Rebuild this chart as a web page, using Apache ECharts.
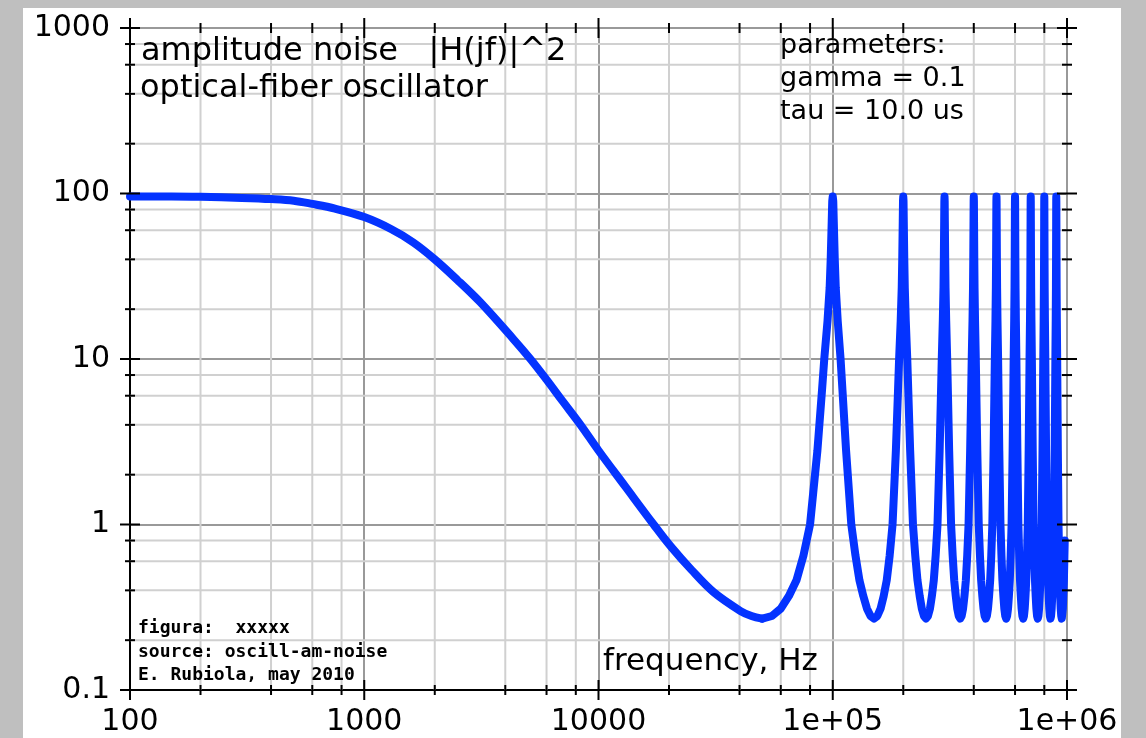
<!DOCTYPE html>
<html>
<head>
<meta charset="utf-8">
<script src="https://cdn.jsdelivr.net/npm/echarts@6/dist/echarts.min.js"></script>
<style>
html, body { margin: 0; padding: 0; background: #bfbfbf; }
#paper { position: absolute; left: 23px; top: 8px; width: 1098px; height: 730px; background: #fff; }
#chart { position: absolute; left: 0; top: 0; width: 1146px; height: 738px; }
</style>
</head>
<body>
<div id="paper"></div>
<div id="chart"></div>
<script>
// amplitude noise |H(jf)|^2
// low-frequency part (Hz), up to the first valley
const lowFreq  = [100, 150, 200, 300, 400, 500, 600, 750, 1000, 1300, 1620, 2000, 2500, 3130, 4330, 5120, 6000, 7000, 8380, 10000, 13000, 17200, 20300, 25000, 31000, 40400, 45000, 50000];
const lowValue = [96, 96, 95.5, 94, 92.5, 90.5, 86.5, 81, 72, 61, 50.6, 40, 30, 22, 13.2, 10, 7.5, 5.6, 4.0, 2.8, 1.7, 1.0, 0.74, 0.53, 0.39, 0.30, 0.28, 0.27];

// the comb: one peak every 1/tau = 100 kHz, same shape each time
const peakCenterKHz = [100, 200, 300, 400, 500, 600, 700, 800, 900];
const peakOffsetKHz = [-50, -45, -40, -35, -30, -25, -20, -14, -10, -8, -5, -3, -2, -1, -0.5, 0, 0.5, 1, 2, 3, 5, 8, 10, 14, 20, 25, 30, 35, 40, 45];
const peakShape     = [0.27, 0.28, 0.31, 0.37, 0.46, 0.65, 1.0, 2.8, 6.5, 10, 17, 27, 40, 68, 90, 96, 90, 68, 40, 27, 17, 10, 6.5, 2.8, 1.0, 0.65, 0.46, 0.37, 0.31, 0.28];
const tailKHz   = [950, 960, 970, 978];
const tailValue = [0.27, 0.31, 0.46, 0.8];

// axes
const xMajor  = [100, 1000, 10000, 1e5, 1e6];
const xLabels = ['100', '1000', '10000', '1e+05', '1e+06'];
const yMajor  = [0.1, 1, 10, 100, 1000];
const yLabels = ['0.1', '1', '10', '100', '1000'];
const xMinor  = [200, 400, 600, 800, 2000, 4000, 6000, 8000, 20000, 40000, 60000, 80000, 200000, 400000, 600000, 800000];
const yMinor  = [0.2, 0.4, 0.6, 0.8, 2, 4, 6, 8, 20, 40, 60, 80, 200, 400, 600, 800];

const X_MIN = 100, X_MAX = 1e6, Y_MIN = 0.1, Y_MAX = 1000;
const FONT = '"DejaVu Sans", "Liberation Sans", sans-serif';
const BLUE = '#0433ff';

const lowPart = lowFreq.map((f, i) => [f, lowValue[i]]);
let comb = [];
peakCenterKHz.forEach(c => {
  peakOffsetKHz.forEach((o, i) => comb.push([(c + o) * 1000, peakShape[i]]));
});
tailKHz.forEach((f, i) => comb.push([f * 1000, tailValue[i]]));

function pickLabel(v, majors, labels) {
  const i = majors.findIndex(m => Math.abs(Math.log10(m) - Math.log10(v)) < 1e-6);
  return i >= 0 ? labels[i] : '';
}

// vertical / horizontal grid lines for the 2-4-6-8 subdivisions
function gridLines(values, vertical, color, width) {
  return {
    type: 'custom', silent: true, z: 1,
    data: values.map(v => vertical ? [v, 1] : [1000, v]),
    renderItem: function (params, api) {
      let a, b;
      if (vertical) {
        a = api.coord([api.value(0), Y_MIN]);
        b = api.coord([api.value(0), Y_MAX]);
      } else {
        a = api.coord([X_MIN, api.value(1)]);
        b = api.coord([X_MAX, api.value(1)]);
      }
      return { type: 'line', shape: { x1: a[0], y1: a[1], x2: b[0], y2: b[1] },
               style: { stroke: color, lineWidth: width } };
    }
  };
}

// ticks crossing the frame on all 4 sides
function ticks(values, vertical, len) {
  return {
    type: 'custom', silent: true, z: 5,
    data: values.map(v => vertical ? [v, 1] : [1000, v]),
    renderItem: function (params, api) {
      let a, b, kids;
      const st = { stroke: '#000', lineWidth: 2 };
      if (vertical) {
        a = api.coord([api.value(0), Y_MIN]);
        b = api.coord([api.value(0), Y_MAX]);
        kids = [
          { type: 'line', shape: { x1: a[0], y1: a[1] - len, x2: a[0], y2: a[1] + len }, style: st },
          { type: 'line', shape: { x1: b[0], y1: b[1] - len, x2: b[0], y2: b[1] + len }, style: st }
        ];
      } else {
        a = api.coord([X_MIN, api.value(1)]);
        b = api.coord([X_MAX, api.value(1)]);
        kids = [
          { type: 'line', shape: { x1: a[0] - len, y1: a[1], x2: a[0] + len, y2: a[1] }, style: st },
          { type: 'line', shape: { x1: b[0] - len, y1: b[1], x2: b[0] + len, y2: b[1] }, style: st }
        ];
      }
      return { type: 'group', children: kids };
    }
  };
}

function txt(s, x, y, size, family, weight) {
  return {
    type: 'text', x: x, y: y, z: 10,
    style: {
      text: s, fill: '#000',
      font: (weight || 'normal') + ' ' + size + 'px ' + (family || FONT),
      align: 'left', verticalAlign: 'middle',
      textAlign: 'left', textVerticalAlign: 'middle'
    }
  };
}

const myChart = echarts.init(document.getElementById('chart'), null, { renderer: 'canvas' });

const option = {
  animation: false,
  backgroundColor: 'transparent',
  grid: {
    left: 130, top: 28, width: 937, height: 662,
    show: true, borderColor: '#000', borderWidth: 2,
    containLabel: false, outerBoundsMode: 'none'
  },
  xAxis: {
    type: 'log', logBase: 10, min: X_MIN, max: X_MAX,
    axisLine: { show: true, lineStyle: { color: '#000', width: 2 } },
    axisTick: { show: false },
    axisLabel: {
      formatter: v => pickLabel(v, xMajor, xLabels),
      fontFamily: FONT, fontSize: 30, color: '#000', margin: 17,
      showMinLabel: true, showMaxLabel: true, hideOverlap: false
    },
    splitLine: { show: true, lineStyle: { color: '#999', width: 2 } }
  },
  yAxis: {
    type: 'log', logBase: 10, min: Y_MIN, max: Y_MAX,
    axisLine: { show: true, lineStyle: { color: '#000', width: 2 } },
    axisTick: { show: false },
    axisLabel: {
      formatter: v => pickLabel(v, yMajor, yLabels),
      fontFamily: FONT, fontSize: 30, color: '#000', margin: 20,
      showMinLabel: true, showMaxLabel: true, hideOverlap: false
    },
    splitLine: { show: true, lineStyle: { color: '#999', width: 2 } }
  },
  series: [
    gridLines(xMinor, true, '#d0d0d0', 2),
    gridLines(yMinor, false, '#d0d0d0', 2),
    {
      type: 'line', data: lowPart, z: 3, smooth: 0.35,
      showSymbol: false, symbol: 'none', silent: true,
      lineStyle: { color: BLUE, width: 8, join: 'round', cap: 'round' }
    },
    {
      type: 'line', data: comb, z: 3,
      showSymbol: false, symbol: 'none', silent: true,
      lineStyle: { color: BLUE, width: 8, join: 'round', cap: 'round' }
    },
    ticks(xMajor, true, 10),
    ticks(xMinor, true, 5),
    ticks(yMajor, false, 10),
    ticks(yMinor, false, 5)
  ],
  graphic: [
    txt('amplitude noise   |H(jf)|^2', 141, 52, 32),
    txt('optical-fiber oscillator', 140, 89, 32),
    txt('parameters:', 780, 46, 27),
    txt('gamma = 0.1', 780, 79, 27),
    txt('tau = 10.0 us', 780, 112, 27),
    txt('frequency, Hz', 603, 662, 31),
    txt('figura:  xxxxx', 138, 628, 18, '"DejaVu Sans Mono", monospace', 'bold'),
    txt('source: oscill-am-noise', 138, 652, 18, '"DejaVu Sans Mono", monospace', 'bold'),
    txt('E. Rubiola, may 2010', 138, 675, 18, '"DejaVu Sans Mono", monospace', 'bold')
  ]
};

myChart.setOption(option);
window.addEventListener('resize', function () {
  myChart.resize();
});
</script>
</body>
</html>
